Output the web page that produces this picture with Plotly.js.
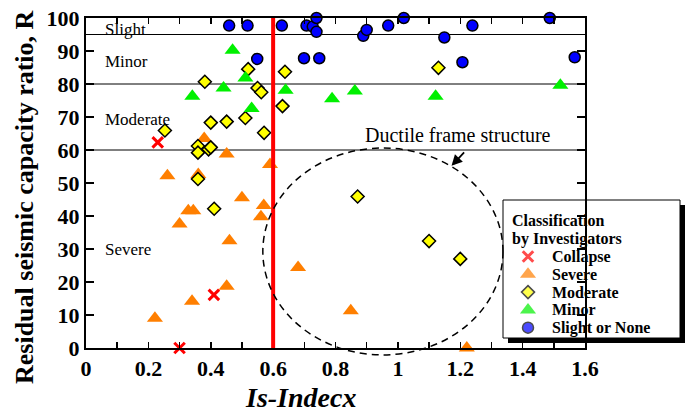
<!DOCTYPE html>
<html><head><meta charset="utf-8">
<script src="https://cdn.plot.ly/plotly-3.0.1.min.js"></script>
<style>html,body{margin:0;padding:0;background:#fff}#chart{width:688px;height:412px}</style>
</head><body><div id="chart"></div>
<script>
// ---- data ----
const collapseX = [0.23, 0.41, 0.30];
const collapseY = [62.3, 16.1, 0];
const severeX = [0.221,0.261,0.300,0.328,0.344,0.340,0.360,0.379,0.451,0.451,0.460,0.500,0.561,0.570,0.590,0.680,0.849,1.221];
const severeY = [9.0,52.2,37.6,41.6,41.6,14.2,52.6,63.5,58.8,18.7,32.5,45.5,39.8,43.2,55.6,24.4,11.3,0.0];
const moderateX = [0.253,0.359,0.359,0.393,0.400,0.359,0.381,0.400,0.411,0.451,0.511,0.520,0.550,0.562,0.571,0.630,0.638,0.871,1.100,1.200,1.130];
const moderateY = [65.9,61.2,59.2,60.2,60.8,51.2,80.7,68.3,42.2,68.6,69.7,84.5,78.8,77.5,65.2,73.3,83.7,45.9,32.4,27.0,84.9];
const minorX = [0.341,0.441,0.470,0.511,0.531,0.640,0.789,0.862,1.121,1.521];
const minorY = [76.3,78.8,90.2,81.8,72.6,78.1,75.5,77.9,76.3,79.6];
const slightX = [0.459,0.518,0.549,0.628,0.699,0.707,0.727,0.739,0.739,0.748,0.889,0.900,0.969,1.019,1.149,1.207,1.239,1.487,1.567];
const slightY = [97.7,97.7,87.6,97.7,87.8,97.7,97.4,100,95.8,87.8,94.6,96.4,97.7,100,94.1,86.6,97.7,100,88.1];
const classNames = ['Collapse','Severe','Moderate','Minor','Slight or None'];
const zoneLabels = ['Slight','Minor','Moderate','Severe'];
const zoneLabelY = [96.6, 86.8, 69.1, 30];
const zoneLines = [95, 80, 60];
const isLimit = 0.6;
const xTicks = [0,0.1,0.2,0.3,0.4,0.5,0.6,0.7,0.8,0.9,1.0,1.1,1.2,1.3,1.4,1.5,1.6];
const xTickText = ['0','','0.2','','0.4','','0.6','','0.8','','1','','1.2','','1.4','','1.6'];

// ---- styles ----
const W=688,H=412,L=86,R=103,T=18,B=64;
const PW=W-L-R, PH=H-T-B;
const px2x = p => (p-L)/PW;
const py2y = p => (H-B-p)/PH;
const FONT='"Liberation Serif","Times New Roman",Times,serif';
const styles = [
  {symbol:'x-thin', size:10.5, color:'#ff0000', line:{color:'#ff0000', width:3}},
  {symbol:'triangle-up', size:14, color:'#ff7f00', line:{color:'#ff7f00', width:0}},
  {symbol:'diamond', size:10, color:'#ffff00', line:{color:'#000', width:1.5}},
  {symbol:'triangle-up', size:14, color:'#00f000', line:{color:'#00f000', width:0}},
  {symbol:'circle', size:11, color:'#0000ff', line:{color:'#000', width:1.5}}
];
const xs=[collapseX,severeX,moderateX,minorX,slightX];
const ys=[collapseY,severeY,moderateY,minorY,slightY];
const traces = xs.map((x,i)=>({type:'scatter', mode:'markers', x:x, y:ys[i], name:classNames[i],
  marker:styles[i], cliponaxis:false, hoverinfo:'x+y'}));

// custom legend (pixel-based overlay axes)
const legX = 528, legTextX = 551, legRow0 = 256.5, legStep = 17.8, legFont = 16;
const legTitleY = [220.5, 238.5];
const legRows = classNames.map((_,i)=>legRow0+i*legStep);
traces.push({type:'scatter', mode:'markers', xaxis:'x2', yaxis:'y2',
  x: legRows.map(()=>legX), y: legRows, cliponaxis:false, hoverinfo:'skip',
  marker:{symbol:styles.map(s=>s.symbol), size:styles.map(s=>s.size), color:styles.map(s=>s.color),
    line:{color:styles.map(s=>s.line.color), width:styles.map(s=>s.line.width)}}});

const shapes = [];
zoneLines.forEach(v=>shapes.push({type:'line', xref:'x', yref:'y', x0:0, x1:1.6, y0:v, y1:v, line:{color:'#000', width:1}, layer:'below'}));
shapes.push({type:'line', xref:'x', yref:'y', x0:isLimit, x1:isLimit, y0:0, y1:100, line:{color:'#ff0000', width:4}});
shapes.push({type:'circle', xref:'x', yref:'paper', x0:0.567, x1:1.337, y0:-2.1/100, y1:60.6/100,
  line:{color:'#000', width:1.5, dash:'7px,5px'}});
// legend box + shadow
shapes.push({type:'rect', xref:'paper', yref:'paper', x0:px2x(508), x1:px2x(685), y0:py2y(343), y1:py2y(205), fillcolor:'#000', line:{width:0}, layer:'below'});
shapes.push({type:'rect', xref:'paper', yref:'paper', x0:px2x(503), x1:px2x(680), y0:py2y(338), y1:py2y(200), fillcolor:'#fff', line:{color:'#000', width:1}, layer:'below'});

const annotations = [];
zoneLabels.forEach((t,i)=>annotations.push({xref:'x', yref:'y', x:0.0545, y:zoneLabelY[i], text:t, showarrow:false,
  xanchor:'left', yanchor:'middle', font:{family:FONT, size:17, color:'#000'}}));
annotations.push({xref:'x', yref:'y', x:1.192, y:64.5, text:'Ductile frame structure', showarrow:false,
  xanchor:'center', yanchor:'middle', font:{family:FONT, size:20, color:'#000'}});
annotations.push({xref:'x', yref:'y', x:1.172, y:55.2, text:'', showarrow:true, ax:14, ay:-15,
  arrowhead:2, arrowsize:1.2, arrowwidth:1.8, arrowcolor:'#000'});
annotations.push({xref:'paper', yref:'paper', x:px2x(300), y:py2y(397), text:'<b><i>Is-Indecx</i></b>', showarrow:false,
  xanchor:'center', yanchor:'middle', font:{family:FONT, size:28, color:'#000'}});
annotations.push({xref:'paper', yref:'paper', x:px2x(24), y:py2y(197), text:'<b>Residual seismic capacity ratio, R</b>', showarrow:false,
  textangle:-90, xanchor:'center', yanchor:'middle', font:{family:FONT, size:26, color:'#000'}});
['Classification','by Investigators'].forEach((t,i)=>annotations.push({xref:'paper', yref:'paper', x:px2x(511), y:py2y(legTitleY[i]), text:'<b>'+t+'</b>', showarrow:false,
  xanchor:'left', yanchor:'middle', borderpad:0, font:{family:FONT, size:legFont, color:'#000'}}));
classNames.forEach((t,i)=>annotations.push({xref:'paper', yref:'paper', x:px2x(legTextX), y:py2y(legRows[i]), text:'<b>'+t+'</b>', showarrow:false,
  xanchor:'left', yanchor:'middle', borderpad:0, font:{family:FONT, size:legFont, color:'#000'}}));

const axisCommon = {showline:true, linewidth:2, linecolor:'#000', mirror:'ticks', ticks:'inside', tickcolor:'#000', tickwidth:1.5,
  showgrid:false, zeroline:false, tickfont:{family:FONT, size:22, color:'#000', weight:'bold'}, fixedrange:true};
const layout = {
  width:W, height:H, margin:{l:L, r:R, t:T, b:B, pad:0}, paper_bgcolor:'#fff', plot_bgcolor:'rgba(0,0,0,0)',
  showlegend:false, font:{family:FONT, color:'#000'},
  xaxis:Object.assign({}, axisCommon, {range:[0,1.6], tickmode:'array', tickvals:xTicks, ticktext:xTickText, ticklen:6}),
  yaxis:Object.assign({}, axisCommon, {range:[0,100], tickmode:'linear', tick0:0, dtick:10, ticklen:8}),
  xaxis2:{overlaying:'x', range:[L, W-R], visible:false, fixedrange:true},
  yaxis2:{overlaying:'y', range:[H-B, T], visible:false, fixedrange:true},
  shapes:shapes, annotations:annotations
};
Plotly.newPlot('chart', traces, layout, {displayModeBar:false, staticPlot:true});
</script></body></html>
